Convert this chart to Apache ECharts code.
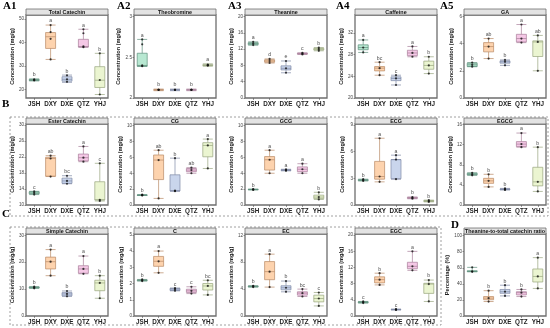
<!DOCTYPE html>
<html><head><meta charset="utf-8">
<script src="https://cdn.jsdelivr.net/npm/echarts@6/dist/echarts.min.js"></script>
<style>html,body{margin:0;padding:0;background:#fff}#c{width:550px;height:328px}</style>
</head><body><div id="c"></div><script>
const groups = ['JSH','DXY','DXE','QTZ','YHJ'];
const fillColors = ['#b8e8d2','#fdd3ae','#c9d5ec','#f5c8e6','#ebf5d1'];
const edgeColors = ['#5f8f7c','#b98a66','#7f8aa6','#a9809b','#98a57e'];

// [min, q1, median, q3, max] per group
const totalCatechinBox = [[23.6,23.8,24.0,24.2,24.5],[32.8,37.5,42.5,44.3,47.5],[23.0,23.5,24.3,25.4,26.1],[38.0,38.1,38.3,41.4,45.7],[17.8,20.8,23.9,29.7,35.4]];
const totalCatechinPts = [[23.8,24.0,24.3],[32.8,41.6,44.5,47.5],[23.2,24.3,26.0],[38.0,38.4,44.0,45.7],[17.8,24.0,35.4]];
const totalCatechinSig = ['b','a','b','a','b'];
const totalCatechinTicks = [20,30,40,50];

const theobromineBox = [[2.39,2.39,2.40,2.55,2.72],[2.09,2.1,2.1,2.1,2.11],[2.09,2.1,2.1,2.1,2.11],[2.09,2.1,2.1,2.1,2.11],[2.39,2.40,2.40,2.41,2.42]];
const theobrominePts = [[2.39,2.40,2.66,2.72],[2.1,2.1,2.1],[2.1,2.1,2.1],[2.1,2.1,2.1],[2.40,2.40,2.41]];
const theobromineSig = ['a','b','b','b','a'];
const theobromineTicks = [2,2.5,3];

const theanineBox = [[13.0,13.1,13.4,13.6,13.8],[8.6,8.8,9.1,9.4,9.6],[6.2,6.9,7.3,7.9,9.1],[10.7,10.8,10.9,11.0,11.1],[11.6,11.8,12.0,12.2,12.4]];
const theaninePts = [[13.0,13.4,13.8],[8.6,9.1,9.6],[6.2,7.3,9.1],[10.7,10.9,11.1],[11.6,12.0,12.4]];
const theanineSig = ['a','d','e','c','b'];
const theanineTicks = [0,4,8,12,16,20];

const caffeineBox = [[28.4,28.9,29.3,29.8,30.7],[24.2,25.0,25.5,25.8,26.6],[22.4,23.2,23.6,23.9,24.2],[27.6,27.8,28.3,28.8,29.5],[24.5,25.3,26.0,26.8,27.6]];
const caffeinePts = [[28.4,29.3,30.7],[24.2,25.5,26.6],[22.4,23.6,24.2],[27.6,28.3,29.5],[24.5,26.0,27.6]];
const caffeineSig = ['a','bc','c','a','b'];
const caffeineTicks = [20,24,28,32];

const gaBox = [[2.3,2.32,2.44,2.56,2.6],[2.9,3.39,3.78,4.07,4.37],[2.4,2.56,2.66,2.73,2.8],[4.07,4.12,4.37,4.68,5.4],[2.0,3.05,4.12,4.2,4.6]];
const gaPts = [[2.3,2.44,2.6],[2.9,3.78,4.37],[2.4,2.66,2.8],[4.07,4.37,5.4],[2.0,4.12,4.6]];
const gaSig = ['b','ab','b','a','ab'];
const gaTicks = [0,2,4,6];

const esterBox = [[12.6,12.8,13.0,13.3,13.4],[17.1,17.2,21.6,21.9,22.3],[15.3,15.4,16.0,16.7,17.3],[20.8,21.0,21.8,22.7,24.6],[11.0,11.25,11.3,15.8,20.4]];
const esterPts = [[12.6,13.0,13.4],[17.1,21.6,22.3],[15.3,16.0,17.3],[20.8,21.8,24.6],[11.0,11.3,20.4]];
const esterSig = ['c','ab','bc','a','c'];
const esterTicks = [10,14,18,22,26,30];

const cgBox = [[1.2,1.22,1.24,1.26,1.3],[0.83,3.2,5.66,6.3,6.9],[1.74,1.76,1.8,3.8,5.9],[4.0,4.2,4.4,4.6,4.7],[4.6,6.07,7.5,7.85,8.3]];
const cgPts = [[1.2,1.24,1.3],[0.83,5.66,6.9],[1.74,1.8,5.9],[4.0,4.4,4.7],[4.6,7.5,8.3]];
const cgSig = ['b','ab','b','ab','a'];
const cgTicks = [0,2,4,6,8,10];

const gcgBox = [[1.9,1.93,1.95,1.97,2.0],[4.0,4.4,5.7,6.1,6.9],[4.3,4.35,4.4,4.45,4.5],[4.0,4.2,4.5,4.8,5.2],[0.7,0.8,1.0,1.24,1.6]];
const gcgPts = [[1.9,1.95,2.0],[4.0,5.7,6.9],[4.3,4.4,4.5],[4.0,4.5,5.2],[0.7,1.0,1.6]];
const gcgSig = ['b','a','a','a','b'];
const gcgTicks = [0,2,4,6,8,10];

const ecgBox = [[2.7,2.75,2.8,2.85,2.9],[2.6,2.9,3.2,4.9,7.5],[2.9,2.95,5.1,5.1,5.6],[0.7,0.75,0.8,0.85,0.9],[0.35,0.4,0.45,0.5,0.55]];
const ecgPts = [[2.7,2.8,2.9],[2.6,3.2,7.5],[2.9,5.1,5.6],[0.7,0.8,0.9],[0.35,0.45,0.55]];
const ecgSig = ['b','a','a','b','b'];
const ecgTicks = [0,3,6,9];

const egcgBox = [[5.9,6.0,6.1,6.3,6.4],[3.6,4.3,4.8,5.3,6.1],[3.0,3.05,3.1,3.2,3.3],[11.5,11.6,12.1,12.6,14.3],[2.7,3.8,4.6,7.5,11.5]];
const egcgPts = [[5.9,6.1,6.4],[3.6,4.8,6.1],[3.0,3.1,3.3],[11.5,12.1,14.3],[2.7,4.6,11.5]];
const egcgSig = ['b','b','b','a','b'];
const egcgTicks = [0,4,8,12,16];

const simpleBox = [[10.3,10.4,10.6,10.8,10.9],[15.0,17.5,20.2,21.9,24.7],[7.3,7.5,8.2,8.7,9.3],[15.7,15.9,17.5,18.7,22.3],[6.6,9.4,12.3,13.3,15.0]];
const simplePts = [[10.3,10.6,10.9],[15.0,20.2,24.7],[7.3,8.2,9.3],[15.7,17.5,22.3],[6.6,12.3,15.0]];
const simpleSig = ['b','a','b','a','b'];
const simpleTicks = [0,10,20,30];

const cBox = [[2.15,2.18,2.2,2.22,2.25],[2.66,3.06,3.37,3.67,4.0],[1.55,1.57,1.65,1.7,1.72],[1.38,1.45,1.55,1.65,1.8],[1.3,1.6,1.85,2.0,2.2]];
const cPts = [[2.15,2.2,2.25],[2.66,3.37,4.0],[1.55,1.65,1.72],[1.38,1.55,1.8],[1.3,1.85,2.2]];
const cSig = ['b','a','c','c','bc'];
const cTicks = [0,1,2,3,4,5];

const ecBox = [[4.3,4.35,4.4,4.45,4.5],[4.3,5.4,6.6,8.1,9.2],[3.6,3.9,4.2,4.5,5.2],[2.9,3.1,3.4,3.6,4.0],[1.5,2.1,2.6,3.1,3.5]];
const ecPts = [[4.3,4.4,4.5],[4.3,6.6,9.2],[3.6,4.2,5.2],[2.9,3.4,4.0],[1.5,2.6,3.5]];
const ecSig = ['b','a','b','bc','c'];
const ecTicks = [0,4,8,12];

const egcBox = [[3.2,3.3,3.4,3.5,3.6],[7.7,8.2,9.0,9.7,10.6],[1.5,1.55,1.6,1.65,1.7],[11.3,11.7,12.3,13.3,16.0],[3.6,5.6,7.9,8.1,8.9]];
const egcPts = [[3.2,3.4,3.6],[7.7,9.0,10.6],[1.5,1.6,1.7],[11.3,12.3,16.0],[3.6,7.9,8.9]];
const egcSig = ['c','b','c','a','b'];
const egcTicks = [0,4,8,12,16,20];

const ratioBox = [[55.0,55.3,55.6,56.3,60.5],[18.0,20.2,22.2,24.2,31.5],[25.0,28.2,30.2,33.0,38.3],[24.2,26.2,29.0,30.2,33.0],[34.3,42.3,49.2,58.5,72.6]];
const ratioPts = [[55.0,55.6,60.5],[18.0,22.2,31.5],[25.0,30.2,38.3],[24.2,29.0,33.0],[34.3,49.2,72.6]];
const ratioSig = ['','b','b','b','a'];
const ratioTicks = [0,20,40,60,80,100];

const CONC = 'Concentration (mg/g)';
const panels = [
  {title:'Total Catechin', box:totalCatechinBox, pts:totalCatechinPts, sig:totalCatechinSig, ticks:totalCatechinTicks, min:16.3, max:51.8, col:0, row:0, tag:'A1', tagDx:-23},
  {title:'Theobromine', box:theobromineBox, pts:theobrominePts, sig:theobromineSig, ticks:theobromineTicks, min:2, max:3.02, col:1, row:0, tag:'A2', tagDx:-17},
  {title:'Theanine', box:theanineBox, pts:theaninePts, sig:theanineSig, ticks:theanineTicks, min:0, max:20.4, col:2, row:0, tag:'A3', tagDx:-17},
  {title:'Caffeine', box:caffeineBox, pts:caffeinePts, sig:caffeineSig, ticks:caffeineTicks, min:20, max:35.3, col:3, row:0, tag:'A4', tagDx:-19},
  {title:'GA', box:gaBox, pts:gaPts, sig:gaSig, ticks:gaTicks, min:0, max:6.1, col:4, row:0, tag:'A5', tagDx:-24},
  {title:'Ester Catechin', box:esterBox, pts:esterPts, sig:esterSig, ticks:esterTicks, min:10, max:30.2, col:0, row:1},
  {title:'CG', box:cgBox, pts:cgPts, sig:cgSig, ticks:cgTicks, min:0, max:10.2, col:1, row:1},
  {title:'GCG', box:gcgBox, pts:gcgPts, sig:gcgSig, ticks:gcgTicks, min:0, max:10.2, col:2, row:1},
  {title:'ECG', box:ecgBox, pts:ecgPts, sig:ecgSig, ticks:ecgTicks, min:0, max:9.1, col:3, row:1},
  {title:'EGCG', box:egcgBox, pts:egcgPts, sig:egcgSig, ticks:egcgTicks, min:0, max:16.1, col:4, row:1},
  {title:'Simple Catechin', box:simpleBox, pts:simplePts, sig:simpleSig, ticks:simpleTicks, min:0, max:30.5, col:0, row:2},
  {title:'C', box:cBox, pts:cPts, sig:cSig, ticks:cTicks, min:0, max:5.05, col:1, row:2},
  {title:'EC', box:ecBox, pts:ecPts, sig:ecSig, ticks:ecTicks, min:0, max:12.2, col:2, row:2},
  {title:'EGC', box:egcBox, pts:egcPts, sig:egcSig, ticks:egcTicks, min:0, max:20.3, col:3, row:2},
  {title:'Theanine-to-total catechin ratio', box:ratioBox, pts:ratioPts, sig:ratioSig, ticks:ratioTicks, min:0, max:102, col:4, row:2, tag:'D', tagDx:-13, yName:'Percentage (%)'}
];

const colLeft = [26, 134, 245, 355, 464];
const PW = 82;
const rowGeom = [{strip:9, top:15, bottom:98}, {strip:118, top:124, bottom:205}, {strip:228, top:234, bottom:316}];
const STRIP_H = 6;

const grids = [], xAxes = [], yAxes = [], series = [], graphics = [];
panels.forEach((p, i) => {
  const g = rowGeom[p.row], left = colLeft[p.col];
  grids.push({left: left, top: g.top, width: PW, height: g.bottom - g.top, show: true, borderColor: '#6e6e6e', borderWidth: 1.3, backgroundColor: '#fff'});
  xAxes.push({type: 'category', gridIndex: i, data: groups,
    axisLine: {show: false}, axisTick: {show: true, alignWithLabel: true, length: 2, lineStyle: {color: '#555', width: 0.6}},
    axisLabel: {fontSize: 6.3, fontWeight: 'bold', color: '#222', margin: 3, fontFamily: 'Liberation Sans', interval: 0}, splitLine: {show: false}});
  yAxes.push({type: 'value', gridIndex: i, min: p.min, max: p.max,
    name: p.yName || CONC, nameLocation: 'middle', nameRotate: 90, nameGap: 10,
    nameTextStyle: {fontSize: 5.6, fontWeight: 'bold', color: '#222', fontFamily: 'Liberation Sans'},
    axisLine: {show: false}, splitLine: {show: false},
    axisTick: {show: true, length: 1.5, customValues: p.ticks, lineStyle: {color: '#555', width: 0.6}},
    axisLabel: {fontSize: 4.6, color: '#444', margin: 2, customValues: p.ticks, fontFamily: 'Liberation Sans'}});
  series.push({type: 'boxplot', xAxisIndex: i, yAxisIndex: i, boxWidth: [10, 10],
    itemStyle: {borderWidth: 0.7},
    data: p.box.map((b, k) => ({value: b, itemStyle: {color: fillColors[k], borderColor: edgeColors[k]}})),
    emphasis: {disabled: true}});
  const pd = [];
  p.pts.forEach((arr, k) => arr.forEach(v => pd.push([k, v])));
  series.push({type: 'scatter', xAxisIndex: i, yAxisIndex: i, symbolSize: 2.2, itemStyle: {color: '#111'}, data: pd, z: 5});
  const tops = p.box.map((b, k) => [k, Math.max(b[4], ...p.pts[k])]);
  series.push({type: 'scatter', xAxisIndex: i, yAxisIndex: i, symbolSize: 0, data: tops, z: 6,
    label: {show: true, position: 'top', distance: 1.5, fontSize: 5.2, color: '#222', fontFamily: 'Liberation Sans',
      formatter: (q) => p.sig[q.dataIndex]}});
  graphics.push({type: 'rect', shape: {x: left, y: g.strip, width: PW, height: STRIP_H}, style: {fill: '#e3e3e3', stroke: '#6e6e6e', lineWidth: 0.8}, z: 10});
  graphics.push({type: 'text', x: left + PW / 2, y: g.strip + STRIP_H / 2 + 0.3, style: {text: p.title, fontSize: 5.4, fontWeight: 'bold', fill: '#111', align: 'center', verticalAlign: 'middle', fontFamily: 'Liberation Sans'}, z: 11});
  if (p.tag) {
    graphics.push({type: 'text', x: left + p.tagDx, y: g.strip - 8, style: {text: p.tag, fontSize: 11, fontWeight: 'bold', fill: '#000', fontFamily: 'Liberation Serif'}, z: 11});
  }
});
graphics.push({type: 'text', x: 2, y: 99, style: {text: 'B', fontSize: 11, fontWeight: 'bold', fill: '#000', fontFamily: 'Liberation Serif'}});
graphics.push({type: 'text', x: 2, y: 209, style: {text: 'C', fontSize: 11, fontWeight: 'bold', fill: '#000', fontFamily: 'Liberation Serif'}});
graphics.push({type: 'rect', shape: {x: 10, y: 117, width: 538, height: 99}, style: {fill: 'none', stroke: '#888', lineWidth: 0.8, lineDash: [2, 2]}, z: 1});
graphics.push({type: 'rect', shape: {x: 10, y: 227, width: 431, height: 98}, style: {fill: 'none', stroke: '#888', lineWidth: 0.8, lineDash: [2, 2]}, z: 1});

const chart = echarts.init(document.getElementById('c'), null, {renderer: 'canvas'});
chart.setOption({animation: false, grid: grids, xAxis: xAxes, yAxis: yAxes, series: series, graphic: graphics});
</script></body></html>
